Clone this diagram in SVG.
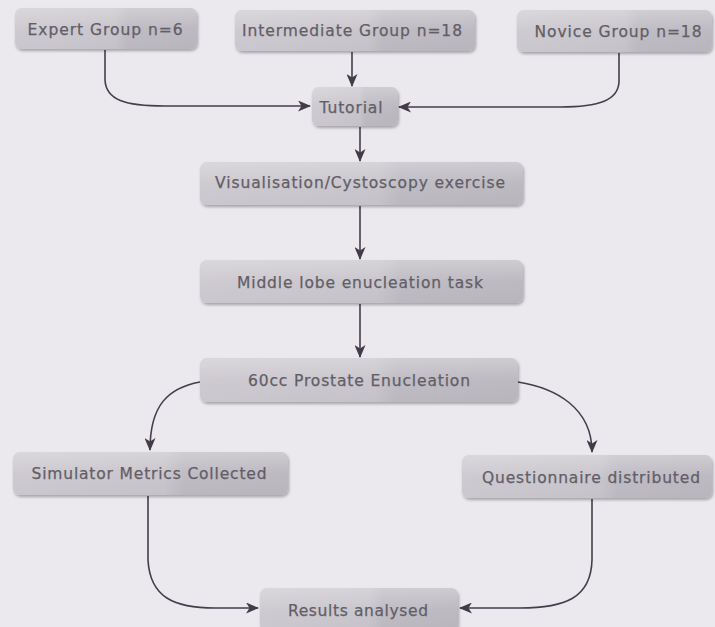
<svg xmlns="http://www.w3.org/2000/svg" width="715" height="627" viewBox="0 0 715 627">
  <defs>
    <linearGradient id="boxFill" x1="0" y1="0" x2="1" y2="0">
      <stop offset="0" stop-color="#cbc7ce"/>
      <stop offset="0.55" stop-color="#c6c2c9"/>
      <stop offset="0.62" stop-color="#bcb8c0"/>
      <stop offset="1" stop-color="#b9b5bd"/>
    </linearGradient>
    <linearGradient id="gloss" x1="0" y1="0" x2="0" y2="1">
      <stop offset="0" stop-color="#ffffff" stop-opacity="0.3"/>
      <stop offset="0.5" stop-color="#ffffff" stop-opacity="0.06"/>
      <stop offset="1" stop-color="#ffffff" stop-opacity="0"/>
    </linearGradient>
    <filter id="shadow" x="-10%" y="-20%" width="120%" height="150%">
      <feGaussianBlur in="SourceAlpha" stdDeviation="1.8"/>
      <feOffset dx="1" dy="2" result="b"/>
      <feComponentTransfer><feFuncA type="linear" slope="0.3"/></feComponentTransfer>
      <feMerge><feMergeNode/><feMergeNode in="SourceGraphic"/></feMerge>
    </filter>
    <marker id="arrow" viewBox="0 0 13 11" refX="12" refY="5.5" markerWidth="13" markerHeight="11" markerUnits="userSpaceOnUse" orient="auto">
      <path d="M0,0 L13,5.5 L0,11 L3.5,5.5 z" fill="#433b49"/>
    </marker>
  </defs>
  <style>
    .box { fill: url(#boxFill); filter: url(#shadow); }
    .gl { fill: url(#gloss); }
    .lbl { font-family: "DejaVu Sans", "Liberation Sans", sans-serif; font-size: 15.5px; fill: #625e67; stroke: #625e67; stroke-width: 0.25; text-anchor: middle; }
    .conn { fill: none; stroke: #463e4c; stroke-width: 1.6; marker-end: url(#arrow); }
  </style>
  <rect width="715" height="627" fill="#ebe8ee"/>

  <g id="connectors">
    <path class="conn" d="M105,50 L105,80 C106,100 125,106 165,106 L310,106"/>
    <path class="conn" d="M352,52 L352,86"/>
    <path class="conn" d="M619,53 L619,82 C618,100 600,107 560,107 L399,107"/>
    <path class="conn" d="M360,127 L360,161"/>
    <path class="conn" d="M360,206 L360,259"/>
    <path class="conn" d="M360,304 L360,357"/>
    <path class="conn" d="M200,382 C168,388 150,405 150,450"/>
    <path class="conn" d="M518,382 C556,388 592,408 592,452"/>
    <path class="conn" d="M148,496 L148,560 C150,598 175,608 215,608 L258,608"/>
    <path class="conn" d="M592,499 L592,560 C591,598 565,608 520,608 L460,608"/>
  </g>

  <g id="expert">
    <rect class="box" x="15" y="8" width="182" height="41" rx="7"/>
    <rect class="gl" x="15" y="8" width="182" height="41" rx="7"/>
    <text class="lbl" x="105" y="34.5" textLength="155" lengthAdjust="spacing">Expert Group n=6</text>
  </g>
  <g id="intermediate">
    <rect class="box" x="235" y="10" width="240" height="41" rx="7"/>
    <rect class="gl" x="235" y="10" width="240" height="41" rx="7"/>
    <text class="lbl" x="352" y="35.5" textLength="220" lengthAdjust="spacing">Intermediate Group n=18</text>
  </g>
  <g id="novice">
    <rect class="box" x="517" y="10" width="195" height="42" rx="7"/>
    <rect class="gl" x="517" y="10" width="195" height="42" rx="7"/>
    <text class="lbl" x="618" y="36.5" textLength="167" lengthAdjust="spacing">Novice Group n=18</text>
  </g>
  <g id="tutorial">
    <rect class="box" x="312" y="87" width="86" height="39" rx="7"/>
    <rect class="gl" x="312" y="87" width="86" height="39" rx="7"/>
    <text class="lbl" x="351" y="112.5" textLength="63" lengthAdjust="spacing">Tutorial</text>
  </g>
  <g id="visualisation">
    <rect class="box" x="200" y="162" width="323" height="43" rx="7"/>
    <rect class="gl" x="200" y="162" width="323" height="43" rx="7"/>
    <text class="lbl" x="360" y="187.5" textLength="290" lengthAdjust="spacing">Visualisation/Cystoscopy exercise</text>
  </g>
  <g id="middle-lobe">
    <rect class="box" x="200" y="260" width="323" height="43" rx="7"/>
    <rect class="gl" x="200" y="260" width="323" height="43" rx="7"/>
    <text class="lbl" x="360" y="287.5" textLength="246" lengthAdjust="spacing">Middle lobe enucleation task</text>
  </g>
  <g id="prostate">
    <rect class="box" x="200" y="358" width="318" height="44" rx="7"/>
    <rect class="gl" x="200" y="358" width="318" height="44" rx="7"/>
    <text class="lbl" x="359" y="385.5" textLength="222" lengthAdjust="spacing">60cc Prostate Enucleation</text>
  </g>
  <g id="simulator">
    <rect class="box" x="13" y="452" width="275" height="43" rx="7"/>
    <rect class="gl" x="13" y="452" width="275" height="43" rx="7"/>
    <text class="lbl" x="149" y="478.5" textLength="235" lengthAdjust="spacing">Simulator Metrics Collected</text>
  </g>
  <g id="questionnaire">
    <rect class="box" x="462" y="455" width="250" height="43" rx="7"/>
    <rect class="gl" x="462" y="455" width="250" height="43" rx="7"/>
    <text class="lbl" x="591" y="482.5" textLength="218" lengthAdjust="spacing">Questionnaire distributed</text>
  </g>
  <g id="results">
    <rect class="box" x="260" y="588" width="198" height="44" rx="7"/>
    <rect class="gl" x="260" y="588" width="198" height="44" rx="7"/>
    <text class="lbl" x="358" y="615.5" textLength="140" lengthAdjust="spacing">Results analysed</text>
  </g>
</svg>
